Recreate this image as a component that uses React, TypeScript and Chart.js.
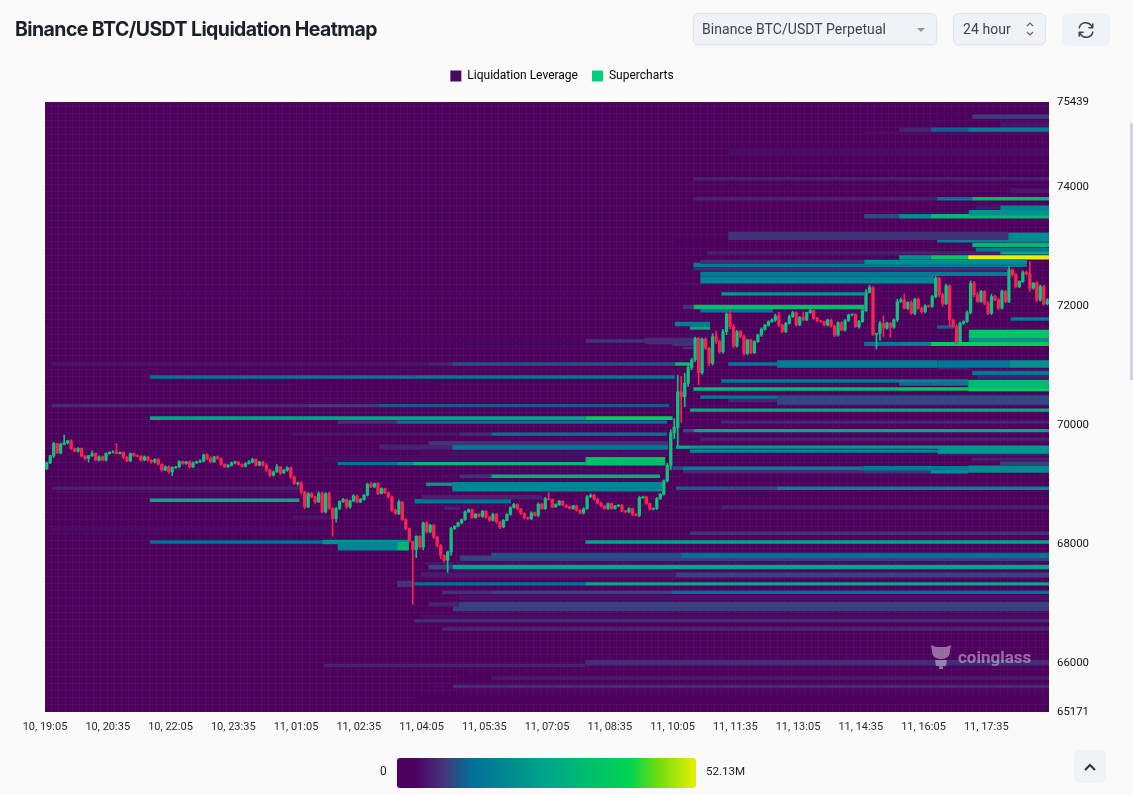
import React, { useEffect, useRef } from "react";
import { Chart, registerables } from "chart.js";

Chart.register(...registerables);

// ---------- chart values ----------
const tickLabels = ["10, 19:05", "10, 20:35", "10, 22:05", "10, 23:35", "11, 01:05", "11, 02:35", "11, 04:05", "11, 05:35", "11, 07:05", "11, 08:35", "11, 10:05", "11, 11:35", "11, 13:05", "11, 14:35", "11, 16:05", "11, 17:35"];
const tickStops = [0, 18, 36, 54, 72, 90, 108, 126, 144, 162, 180, 198, 216, 234, 252, 270];
const priceTicks = [65171, 66000, 68000, 70000, 72000, 74000, 75439];
const firstOpen = 69269;

const closes = [
  69365, 69483, 69691, 69533, 69679, 69702, 69736, 69606, 69561, 69606,
  69477, 69438, 69488, 69522, 69410, 69466, 69410, 69522, 69544, 69550,
  69522, 69539, 69455, 69398, 69522, 69488, 69477, 69410, 69466, 69410,
  69381, 69421, 69342, 69241, 69297, 69213, 69286, 69297, 69387, 69353,
  69381, 69297, 69365, 69381, 69398, 69500, 69438, 69381, 69466, 69438,
  69337, 69297, 69325, 69365, 69381, 69337, 69308, 69353, 69381, 69421,
  69325, 69381, 69325, 69241, 69157, 69213, 69297, 69196, 69241, 69280,
  69129, 69016, 69027, 68876, 68623, 68848, 68792, 68707, 68848, 68539,
  68848, 68595, 68427, 68595, 68713, 68747, 68623, 68724, 68809, 68707,
  68747, 68820, 69005, 68960, 69017, 68848, 68932, 68859, 68792, 68567,
  68511, 68707, 68410, 68258, 68044, 67904, 68129, 67949, 68353, 68202,
  68314, 68117, 67977, 67808, 67724, 67865, 68258, 68297, 68353, 68410,
  68539, 68578, 68443, 68500, 68466, 68550, 68454, 68398, 68499, 68370,
  68286, 68398, 68499, 68612, 68662, 68589, 68511, 68443, 68426, 68522,
  68482, 68668, 68595, 68763, 68747, 68623, 68662, 68719, 68651, 68623,
  68595, 68640, 68567, 68522, 68595, 68792, 68820, 68752, 68690, 68634,
  68595, 68679, 68595, 68640, 68651, 68556, 68539, 68595, 68499, 68482,
  68780, 68792, 68679, 68584, 68595, 68763, 68837, 69061, 69326, 69871,
  69961, 70562, 70478, 70702, 70972, 71096, 71461, 70882, 71444, 71293,
  71040, 71489, 71405, 71236, 71574, 71871, 71658, 71332, 71574, 71489,
  71208, 71433, 71219, 71405, 71517, 71613, 71680, 71742, 71770, 71838,
  71686, 71574, 71714, 71826, 71894, 71686, 71815, 71770, 71894, 71928,
  71798, 71753, 71742, 71686, 71770, 71669, 71517, 71725, 71602, 71760,
  71855, 71866, 71658, 71743, 71928, 72232, 72316, 71529, 71546, 71715,
  71630, 71715, 71647, 71771, 72080, 72108, 71968, 72063, 71883, 72119,
  71968, 71911, 72007, 71996, 72164, 72473, 72192, 72041, 72344, 71771,
  71658, 71406, 71715, 71743, 71894, 72389, 72192, 72080, 72249, 72052,
  71883, 72164, 72108, 71968, 72249, 72080, 72614, 72530, 72333, 72417,
  72569, 72546, 72305, 72389, 72108, 72333, 72041, 72108,
];

const upWicks = [
  15, 10, 20, 5, 20, 130, 10, 15, 10, 15,
  10, 15, 0, 45, 10, 15, 15, 10, 10, 20,
  140, 10, 15, 20, 10, 10, 15, 10, 15, 5,
  10, 15, 20, 10, 15, 20, 15, 10, 15, 10,
  10, 20, 15, 15, 20, 10, 15, 25, 10, 15,
  10, 15, 10, 15, 15, 5, 10, 15, 20, 25,
  15, 10, 10, 30, 20, 15, 40, 10, 15, 20,
  15, 20, 15, 25, 10, 15, 20, 10, 30, 20,
  15, 20, 15, 20, 15, 20, 10, 15, 20, 15,
  20, 15, 20, 30, 10, 15, 15, 10, 15, 15,
  20, 30, 10, 15, 10, 0, 10, 10, 15, 25,
  15, 20, 10, 15, 10, 15, 20, 10, 15, 10,
  20, 15, 10, 15, 10, 15, 10, 15, 20, 15,
  10, 15, 10, 15, 20, 15, 10, 15, 10, 20,
  15, 25, 15, 20, 100, 10, 15, 15, 10, 10,
  15, 10, 15, 10, 15, 20, 25, 20, 15, 10,
  15, 15, 10, 10, 15, 15, 10, 15, 10, 10,
  25, 15, 15, 10, 15, 20, 15, 20, 30, 50,
  150, 280, 260, 170, 50, 30, 20, 15, 25, 30,
  20, 50, 100, 30, 40, 20, 60, 40, 20, 25,
  30, 15, 15, 15, 15, 25, 15, 15, 20, 30,
  60, 15, 15, 30, 20, 15, 15, 90, 10, 25,
  15, 15, 15, 10, 15, 20, 15, 15, 20, 15,
  15, 10, 10, 20, 20, 50, 40, 10, 0, 30,
  120, 20, 15, 20, 40, 30, 100, 15, 30, 20,
  25, 15, 20, 15, 20, 30, 15, 25, 30, 15,
  15, 30, 20, 15, 30, 40, 30, 40, 20, 15,
  30, 40, 20, 30, 25, 20, 50, 15, 30, 15,
  30, 20, 210, 15, 30, 25, 20, 20,
];

const downWicks = [
  20, 15, 30, 10, 20, 10, 20, 15, 10, 15,
  15, 25, 60, 15, 15, 15, 10, 15, 10, 15,
  10, 10, 20, 15, 10, 15, 10, 15, 10, 20,
  25, 20, 15, 15, 10, 25, 60, 15, 10, 15,
  15, 20, 15, 10, 15, 20, 25, 15, 10, 15,
  15, 15, 10, 15, 20, 10, 15, 15, 10, 20,
  15, 10, 15, 20, 25, 15, 10, 30, 10, 15,
  25, 20, 30, 35, 30, 15, 15, 25, 10, 15,
  20, 15, 300, 60, 15, 15, 25, 20, 15, 15,
  15, 10, 15, 15, 15, 20, 10, 15, 20, 25,
  15, 20, 15, 20, 15, 920, 135, 20, 50, 20,
  15, 25, 30, 60, 30, 200, 60, 15, 10, 15,
  15, 10, 15, 15, 15, 20, 25, 20, 15, 25,
  30, 15, 10, 15, 10, 15, 15, 20, 15, 20,
  15, 25, 15, 15, 10, 15, 10, 15, 10, 15,
  10, 15, 15, 15, 20, 15, 10, 15, 20, 10,
  15, 15, 15, 10, 15, 15, 20, 15, 25, 15,
  25, 15, 15, 15, 10, 15, 15, 15, 20, 80,
  100, 310, 430, 170, 50, 40, 30, 200, 30, 20,
  40, 30, 30, 30, 30, 50, 40, 30, 20, 25,
  30, 25, 20, 15, 15, 25, 20, 15, 15, 25,
  30, 20, 15, 15, 15, 20, 15, 15, 15, 15,
  15, 15, 15, 15, 20, 20, 30, 20, 15, 20,
  15, 15, 15, 25, 15, 15, 10, 20, 250, 120,
  140, 15, 170, 20, 30, 15, 15, 25, 20, 25,
  20, 20, 25, 15, 15, 20, 30, 40, 15, 100,
  15, 40, 25, 20, 15, 20, 30, 20, 15, 25,
  30, 25, 15, 30, 15, 20, 20, 25, 25, 20,
  15, 20, 50, 20, 30, 25, 20, 15,
];

// Liquidation bands: [price centre, price height, start candle, end candle, leverage in millions]
const bandsUpper = [
  [75260, 40, 256, 288, 3.6], [75193, 67, 266, 288, 8.8], [75058, 67, 274, 288, 5.2],
  [74974, 67, 245, 254, 6.3], [74974, 67, 254, 264.8, 11.5], [74974, 67, 264.8, 288, 16.7],
  [74923, 50, 235, 288, 4.2], [74603, 118, 196, 288, 4.2], [74350, 50, 215, 288, 3.1],
  [74148, 50, 186, 288, 6.3], [74013, 40, 188, 288, 2.6], [73945, 67, 277, 288, 5.2],
  [73810, 50, 186, 255.9, 6.3], [73810, 50, 255.9, 266, 14.6], [73810, 50, 266, 288, 32.3],
  [73659, 67, 267, 274, 5.2], [73659, 67, 274, 288, 18.2], [73574, 84, 265, 288, 20.8],
  [73515, 67, 235, 245, 9.4], [73515, 67, 245, 254, 20.8], [73515, 67, 254, 288, 32.3],
  [73102, 40, 180.7, 196, 3.1], [73186, 135, 196, 276.3, 7.8], [73170, 135, 276.3, 288, 19.8],
  [73102, 50, 255.9, 288, 17.2], [73035, 67, 266, 288, 31.2], [72951, 50, 267, 288, 15.6],
  [72900, 50, 190, 274, 6.3], [72900, 50, 274, 288, 28.6],
  [72748, 67, 188, 235, 7.3], [72748, 67, 235, 245, 20.8], [72748, 67, 245, 281.7, 19.8],
  [72824, 67, 245, 254, 20.8], [72824, 67, 254, 264.8, 37.4], [72824, 67, 264.8, 288, 52.13],
  [72698, 67, 186, 281.7, 15.6], [72630, 50, 186, 276, 7.3], [72546, 67, 188, 276, 15.6],
  [72445, 118, 188, 255, 18.2], [72378, 30, 180, 255, 4.2],
  [72209, 40, 31, 194, 3.6], [72209, 50, 194, 235, 23.4],
  [71989, 67, 183, 186, 7.8], [71989, 67, 186, 235, 33.8], [71922, 50, 188, 208.8, 14.6],
  [71787, 50, 277, 288, 15.6], [71703, 67, 180.7, 190.8, 15.6], [71652, 50, 255.9, 260.8, 11.5],
  [71635, 50, 185, 190.8, 28.6],
];

const bandsMiddle = [
  [71534, 135, 265, 288, 35.4], [71500, 80, 267, 274, 18.2], [71433, 50, 265, 288, 23.4],
  [71416, 100, 172, 186, 7.3], [71366, 50, 180, 186, 8.9], [71298, 34, 183, 186, 7.8],
  [71416, 50, 84, 155, 3.6], [71416, 50, 155, 172, 7.8], [71332, 40, 119, 172, 3.6],
  [71366, 58, 235, 245, 14.6], [71366, 58, 245, 254, 18.2], [71366, 58, 254, 288, 39],
  [71028, 50, 2, 110, 5.2], [71028, 50, 110, 116.8, 6.8], [71028, 50, 116.8, 180.7, 10.4], [71028, 50, 180.7, 185, 33.8],
  [71028, 50, 196, 210, 14.6], [71028, 118, 210, 256, 16.7], [71028, 118, 256, 276.8, 14.6], [71028, 118, 276.8, 288, 20.8],
  [70961, 50, 256, 265, 6.3], [70877, 67, 266, 288, 14.6], [70809, 40, 267.4, 288, 6.3],
  [70809, 50, 30.1, 106, 14.6], [70809, 50, 106, 180.7, 15.6],
  [70742, 50, 194, 244.7, 15.6], [70742, 50, 244.7, 264.8, 17.2],
  [70691, 34, 71, 114, 3.6], [70691, 50, 245, 254, 13], [70691, 50, 254, 264.8, 15.6], [70691, 135, 264.8, 288, 32],
  [70607, 50, 186, 244.7, 32.3], [70607, 50, 244.7, 264.8, 37.4], [70607, 67, 264.8, 288, 39.5],
  [70413, 135, 210, 288, 9.4], [70413, 50, 196, 210, 6.8], [70472, 50, 188, 288, 15.6],
  [70329, 50, 2, 75.7, 7.3], [70329, 50, 75.7, 95.8, 8.5], [70329, 50, 95.8, 179, 11],
  [70253, 50, 185, 288, 28.6],
  [70118, 58, 30.1, 155, 26], [70118, 58, 155, 180, 39],
  [70051, 50, 84, 101, 7.8], [70051, 50, 101, 178.4, 14.6], [70051, 50, 194, 288, 6.8],
  [69907, 50, 183, 186, 10.4], [69907, 50, 186, 288, 26],
  [69848, 50, 71, 119, 5.2], [69848, 50, 119, 128, 7.3], [69848, 50, 128, 178.4, 14.6],
  [69764, 50, 188, 288, 6.3],
];

const bandsLower = [
  [69697, 67, 110, 178.7, 7.8],
  [69629, 84, 95.8, 116.8, 6.3], [69629, 84, 116.8, 178.7, 15.6], [69629, 50, 181, 185, 28.6], [69629, 50, 185, 288, 23.4],
  [69570, 84, 256, 288, 21.8], [69562, 50, 185, 256, 18.2], [69528, 67, 108, 178.7, 4.2], [69528, 34, 256, 288, 15.6],
  [69427, 67, 79.5, 155, 4.2], [69393, 135, 155, 177.9, 34], [69427, 50, 266, 288, 6.3],
  [69351, 50, 84, 101, 14], [69351, 50, 101, 105.6, 20.8], [69351, 50, 105.6, 155, 34], [69359, 50, 274, 288, 9.4],
  [69275, 50, 180, 183, 10.4], [69275, 50, 183, 234.7, 16.7], [69275, 67, 234.7, 264.8, 15.6], [69260, 118, 264.8, 288, 19.8],
  [69216, 50, 183, 234.7, 7.3], [69216, 50, 234.7, 254, 7.8], [69216, 50, 254, 264.8, 20.8],
  [69140, 50, 114.5, 119, 4.2], [69140, 50, 119, 128, 7.8], [69140, 50, 128, 176.4, 28.6],
  [69005, 50, 109.3, 116.8, 23.4], [68963, 152, 116.8, 177, 18.2],
  [68938, 50, 2, 73, 6.3], [68938, 50, 181, 196, 11.5], [68938, 50, 196, 210, 10.4], [68938, 50, 210, 288, 18.2],
  [68786, 67, 108, 142.6, 6.3], [68735, 50, 30.1, 73, 26], [68718, 67, 106, 133.7, 14.6],
  [68617, 50, 180, 194, 4.2], [68617, 50, 194, 288, 6.3], [68601, 40, 67, 80, 3.1], [68601, 50, 114.5, 119, 6.3],
  [68449, 50, 71, 82, 5.2], [68247, 50, 2, 82, 4.2], [68247, 50, 96, 103.3, 4.2],
  [68179, 50, 185, 288, 7.8],
  [67960, 135, 84, 101, 18.2], [67960, 135, 101, 104.4, 31.2],
  [68032, 50, 30.1, 79.5, 13], [68032, 67, 79.5, 104.4, 20.8], [68032, 50, 155, 288, 26],
];

const bandsBottom = [
  [67808, 84, 128, 182.7, 10.4], [67808, 84, 182.7, 288, 14], [67758, 84, 119, 288, 8.9],
  [67673, 40, 109, 117, 5.2], [67611, 67, 110, 117, 9.4], [67611, 67, 117, 288, 26],
  [67538, 50, 117, 181, 4.7], [67479, 84, 107.9, 181, 5.7], [67479, 84, 181, 288, 8.9],
  [67327, 100, 101, 106, 7.8], [67327, 50, 106, 155, 14], [67327, 50, 155, 288, 27],
  [67184, 50, 113.9, 128, 7.8], [67184, 50, 128, 179.6, 9.4], [67184, 50, 179.6, 288, 14],
  [67100, 84, 118.8, 288, 4.7], [66982, 67, 110, 118.8, 6.3], [66948, 152, 117, 288, 8.9],
  [66780, 67, 107.9, 288, 4.2], [66704, 50, 105.9, 288, 7.3], [66569, 50, 113.9, 288, 6.8],
  [66000, 84, 155, 288, 7.3], [65954, 50, 80, 155, 6.3],
  [65743, 50, 118.8, 128, 3.1], [65743, 50, 128, 288, 5.7],
  [65600, 50, 110, 117, 3.6], [65600, 50, 117, 288, 7.3], [65364, 100, 106, 288, 3.1],
];

const maxLeverage = 52.13;
const colourStops: [number, number[]][] = [
  [0, [76, 0, 96]], [0.06, [76, 0, 96]], [0.16, [66, 56, 124]], [0.25, [0, 112, 152]],
  [0.5, [0, 165, 138]], [0.78, [0, 213, 82]], [0.87, [110, 220, 16]], [1, [232, 240, 0]],
];

const UP = "#0cc47c";
const DOWN = "#fb2150";
const PLOT_BG = "#4d005c";
const FONT = "Roboto, sans-serif";

function heatColour(millions: number): string {
  const t = Math.min(1, millions / maxLeverage);
  for (let i = 1; i < colourStops.length; i++) {
    const [p1, c1] = colourStops[i];
    if (t <= p1) {
      const [p0, c0] = colourStops[i - 1];
      const k = (t - p0) / (p1 - p0);
      const m = c0.map((c, j) => Math.round(c + (c1[j] - c) * k));
      return `rgb(${m[0]},${m[1]},${m[2]})`;
    }
  }
  return "rgb(232,240,0)";
}

const plotBackground = {
  id: "plotBackground",
  beforeDraw(chart: any) {
    const { ctx, chartArea: a } = chart;
    ctx.save();
    ctx.fillStyle = PLOT_BG;
    ctx.fillRect(a.left, a.top, a.right - a.left, a.bottom - a.top);
    ctx.restore();
  },
};

const gridLine = {
  display: true,
  color: "rgba(255,255,255,0.04)",
  drawTicks: false,
  offset: false,
};

export default function App() {
  const canvasRef = useRef<HTMLCanvasElement | null>(null);

  useEffect(() => {
    const opens = closes.map((_, i) => (i === 0 ? firstOpen : closes[i - 1]));
    const bandSets = [...bandsUpper, ...bandsMiddle, ...bandsLower, ...bandsBottom].map(([price, height, start, end, value]) => ({
      type: "line",
      label: "Liquidation Leverage",
      data: [{ x: start, y: price }, { x: end, y: price }],
      borderColor: heatColour(value),
      borderCapStyle: "butt",
      borderWidth: (ctx: any) => {
        const y = ctx.chart.scales.y;
        return Math.abs(y.getPixelForValue(price) - y.getPixelForValue(price + height)) + 0.4;
      },
      pointRadius: 0,
      tension: 0,
      order: 3,
      xAxisID: "x",
      yAxisID: "y",
    }));
    const candleColour = closes.map((c, i) => (c >= opens[i] ? UP : DOWN));

    const chart = new Chart(canvasRef.current as HTMLCanvasElement, {
      type: "bar",
      data: {
        datasets: [
          ...bandSets,
          {
            type: "bar",
            label: "Wicks",
            data: closes.map((c, i) => ({
              x: i + 0.5,
              y: [Math.min(c, opens[i]) - downWicks[i], Math.max(c, opens[i]) + upWicks[i]],
            })),
            backgroundColor: candleColour,
            barThickness: 1,
            grouped: false,
            order: 2,
            xAxisID: "x",
            yAxisID: "y",
          },
          {
            type: "bar",
            label: "Supercharts",
            data: closes.map((c, i) => ({ x: i + 0.5, y: [opens[i], c] })),
            backgroundColor: candleColour,
            barThickness: 2.6,
            grouped: false,
            order: 1,
            xAxisID: "x",
            yAxisID: "y",
          },
        ] as any,
      },
      options: {
        animation: false,
        responsive: false,
        events: [],
        layout: { padding: { top: 56, right: 9, left: 0, bottom: 0 } },
        plugins: {
          tooltip: { enabled: false },
          legend: {
            display: true,
            position: "top",
            onClick: () => {},
            labels: {
              boxWidth: 11,
              boxHeight: 11,
              padding: 14,
              color: "#2f3540",
              font: { family: FONT, size: 12 },
              generateLabels: () => [
                { text: "Liquidation Leverage", fillStyle: "#470a5e", strokeStyle: "#470a5e", lineWidth: 0, datasetIndex: 0 },
                { text: "Supercharts", fillStyle: "#00d07a", strokeStyle: "#00d07a", lineWidth: 0, datasetIndex: 1 },
              ],
            },
          },
        },
        scales: {
          x: {
            type: "linear",
            position: "bottom",
            offset: false,
            min: 0,
            max: 288,
            grid: { display: false, offset: false, drawTicks: false },
            border: { display: false },
            afterBuildTicks: (s: any) => { s.ticks = tickStops.map((value) => ({ value })); },
            afterFit: (s: any) => { s.height = 83; },
            ticks: {
              autoSkip: false,
              maxRotation: 0,
              padding: 9,
              color: "#1f2530",
              font: { family: FONT, size: 11 },
              callback: (v: any) => tickLabels[tickStops.indexOf(Number(v))] ?? "",
            },
          },
          xGrid: {
            type: "linear",
            position: "top",
            offset: false,
            min: 0,
            max: 288,
            grid: gridLine,
            border: { display: false },
            afterBuildTicks: (s: any) => { s.ticks = Array.from({ length: 145 }, (_, i) => ({ value: i * 2 })); },
            afterFit: (s: any) => { s.height = 10; },
            ticks: { display: false, autoSkip: false },
          },
          y: {
            type: "linear",
            position: "right",
            min: 65171,
            max: 75439,
            beginAtZero: false,
            grid: { display: false, drawTicks: false },
            border: { display: false },
            afterBuildTicks: (s: any) => { s.ticks = priceTicks.map((value) => ({ value })); },
            afterFit: (s: any) => { s.width = 75; },
            ticks: {
              autoSkip: false,
              padding: 8,
              color: "#111",
              font: { family: FONT, size: 11.4 },
              callback: (v: any) => String(v),
            },
          },
          yGrid: {
            type: "linear",
            position: "left",
            min: 65171,
            max: 75439,
            beginAtZero: false,
            grid: gridLine,
            border: { display: false },
            afterBuildTicks: (s: any) => { s.ticks = Array.from({ length: 86 }, (_, i) => ({ value: 65171 + i * 120 })); },
            afterFit: (s: any) => { s.width = 45; },
            ticks: { display: false, autoSkip: false },
          },
        },
      } as any,
      plugins: [plotBackground],
    });
    return () => chart.destroy();
  }, []);

  const uiFont = "Roboto, sans-serif";
  const box: React.CSSProperties = {
    position: "absolute",
    boxSizing: "border-box",
    background: "#eff3f8",
    border: "1px solid #dfe5ee",
    borderRadius: 6,
    boxShadow: "0 1px 2px rgba(30,50,90,0.08)",
    fontFamily: uiFont,
    fontSize: 14,
    letterSpacing: 0.06,
    color: "#3c4350",
    display: "flex",
    alignItems: "center",
  };
  const gradient = colourStops
    .map(([p, c]) => `rgb(${c[0]},${c[1]},${c[2]}) ${p * 100}%`)
    .join(", ");

  return (
    <div style={{ position: "fixed", inset: 0, width: 1133, height: 795, background: "#fafafa", overflow: "hidden" }}>
      <canvas ref={canvasRef} width={1133} height={795} style={{ position: "absolute", left: 0, top: 0, width: 1133, height: 795, display: "block" }} />

      <div style={{ position: "absolute", left: 15, top: 16, fontFamily: "Inter, sans-serif", fontWeight: 700, fontSize: 19.5, letterSpacing: -0.58, lineHeight: "26px", color: "#1b1f27", whiteSpace: "nowrap" }}>
        Binance BTC/USDT Liquidation Heatmap
      </div>

      <div style={{ ...box, left: 693, top: 13, width: 244, height: 32, paddingLeft: 8 }}>
        Binance BTC/USDT Perpetual
        <svg width="8" height="5" style={{ position: "absolute", right: 11, top: 14 }}><path d="M0 0 L8 0 L4 4 Z" fill="#8f95a0" /></svg>
      </div>
      <div style={{ ...box, left: 953, top: 13, width: 93, height: 32, paddingLeft: 9 }}>
        24 hour
        <svg width="10" height="16" style={{ position: "absolute", right: 10, top: 7 }}>
          <path d="M2 5 L5 2 L8 5 M2 11 L5 14 L8 11" fill="none" stroke="#5d6470" strokeWidth="1.2" />
        </svg>
      </div>
      <div style={{ ...box, left: 1062, top: 13, width: 48, height: 33, border: "none", boxShadow: "none" }}>
        <svg width="18" height="18" viewBox="0 0 24 24" style={{ margin: "auto" }} fill="none" stroke="#3c4350" strokeWidth="2" strokeLinecap="round" strokeLinejoin="round">
          <path d="M3 9a9 9 0 0 1 16-3l2 3M21 4v5h-5" />
          <path d="M21 15a9 9 0 0 1-16 3l-2-3M3 20v-5h5" />
        </svg>
      </div>

      <div style={{ position: "absolute", left: 930, top: 644, width: 102, height: 27, pointerEvents: "none" }}>
        <svg width="22" height="26" viewBox="0 0 22 26" style={{ position: "absolute", left: 0, top: 0 }} fill="rgba(255,255,255,0.42)">
          <path d="M1 1 L6 3 L16 3 L21 1 L20 7 C20 13 16 15 11 15 C6 15 2 13 2 7 Z" />
          <path d="M5 16 L17 16 L16 22 L13 22 L13 25 L9 25 L9 22 L6 22 Z" />
        </svg>
        <span style={{ position: "absolute", left: 28, top: 1, fontFamily: "Roboto, sans-serif", fontWeight: 700, fontSize: 17, color: "rgba(255,255,255,0.42)", lineHeight: "24px" }}>coinglass</span>
      </div>

      <div style={{ position: "absolute", left: 380, top: 764, fontFamily: FONT, fontSize: 12, lineHeight: "14px", color: "#222" }}>0</div>
      <div style={{ position: "absolute", left: 397, top: 758, width: 299, height: 30, borderRadius: 3, background: `linear-gradient(to right, ${gradient})` }} />
      <div style={{ position: "absolute", left: 706, top: 764, fontFamily: FONT, fontSize: 11.6, lineHeight: "14px", color: "#222" }}>52.13M</div>

      <div style={{ ...box, left: 1074, top: 750, width: 32, height: 33, border: "none", boxShadow: "none" }}>
        <svg width="14" height="10" viewBox="0 0 14 10" style={{ margin: "auto" }}><path d="M2 8 L7 3 L12 8" fill="none" stroke="#2b313a" strokeWidth="2" /></svg>
      </div>

      <div style={{ position: "absolute", left: 1130, top: 123, width: 3, height: 257, background: "#ccd4e6" }} />
    </div>
  );
}
